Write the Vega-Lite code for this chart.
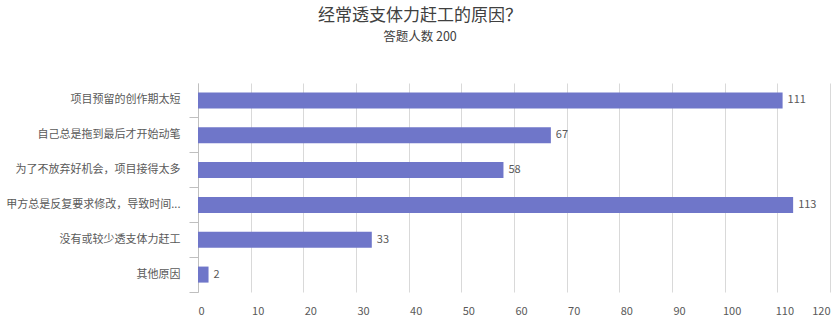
{
  "$schema": "https://vega.github.io/schema/vega-lite/v6.json",
  "width": 632,
  "height": 209,
  "autosize": {"type": "none"},
  "padding": {"left": 198, "top": 83, "right": 10, "bottom": 38},
  "background": "white",
  "config": {"view": {"stroke": null}, "font": "Noto Sans CJK SC"},
  "title": {
    "text": "经常透支体力赶工的原因？",
    "subtitle": "答题人数 200",
    "anchor": "middle",
    "frame": "group",
    "dx": -94,
    "offset": 39,
    "font": "Noto Sans CJK SC",
    "fontSize": 17,
    "fontWeight": "normal",
    "color": "#404040",
    "subtitleFont": "Noto Sans CJK SC",
    "subtitleFontSize": 12.5,
    "subtitleColor": "#404040",
    "subtitlePadding": 6
  },
  "data": {
    "values": [
      {"reason": "项目预留的创作期太短", "count": 111},
      {"reason": "自己总是拖到最后才开始动笔", "count": 67},
      {"reason": "为了不放弃好机会，项目接得太多", "count": 58},
      {"reason": "甲方总是反复要求修改，导致时间...", "count": 113},
      {"reason": "没有或较少透支体力赶工", "count": 33},
      {"reason": "其他原因", "count": 2}
    ]
  },
  "encoding": {
    "y": {
      "field": "reason",
      "type": "nominal",
      "sort": null,
      "scale": {"paddingInner": 0, "paddingOuter": 0},
      "axis": {
        "title": null,
        "domain": true,
        "domainColor": "#bfbfbf",
        "ticks": true,
        "tickSize": 9,
        "tickColor": "#bfbfbf",
        "bandPosition": 1,
        "grid": false,
        "labelPadding": 9,
        "labelFontSize": 11,
        "labelColor": "#595959",
        "labelLimit": 300,
        "labelFont": "Noto Sans CJK SC"
      }
    },
    "x": {
      "field": "count",
      "type": "quantitative",
      "scale": {"domain": [0, 120], "nice": false},
      "axis": {
        "title": null,
        "domain": false,
        "ticks": false,
        "grid": true,
        "gridColor": "#d9d9d9",
        "values": [0, 10, 20, 30, 40, 50, 60, 70, 80, 90, 100, 110, 120],
        "labelFlush": true,
        "labelOffset": {"condition": {"test": "datum.value > 0 && datum.value < 120", "value": 7}, "value": 0},
        "labelPadding": 13,
        "labelFontSize": 11,
        "labelColor": "#595959",
        "labelFont": "Noto Sans CJK SC"
      }
    }
  },
  "layer": [
    {"mark": {"type": "bar", "color": "#6f76c9", "height": {"band": 0.46}}},
    {
      "mark": {"type": "text", "align": "left", "baseline": "middle", "dx": 5, "fontSize": 11, "color": "#595959", "font": "Noto Sans CJK SC"},
      "encoding": {"text": {"field": "count", "type": "quantitative"}}
    }
  ]
}
